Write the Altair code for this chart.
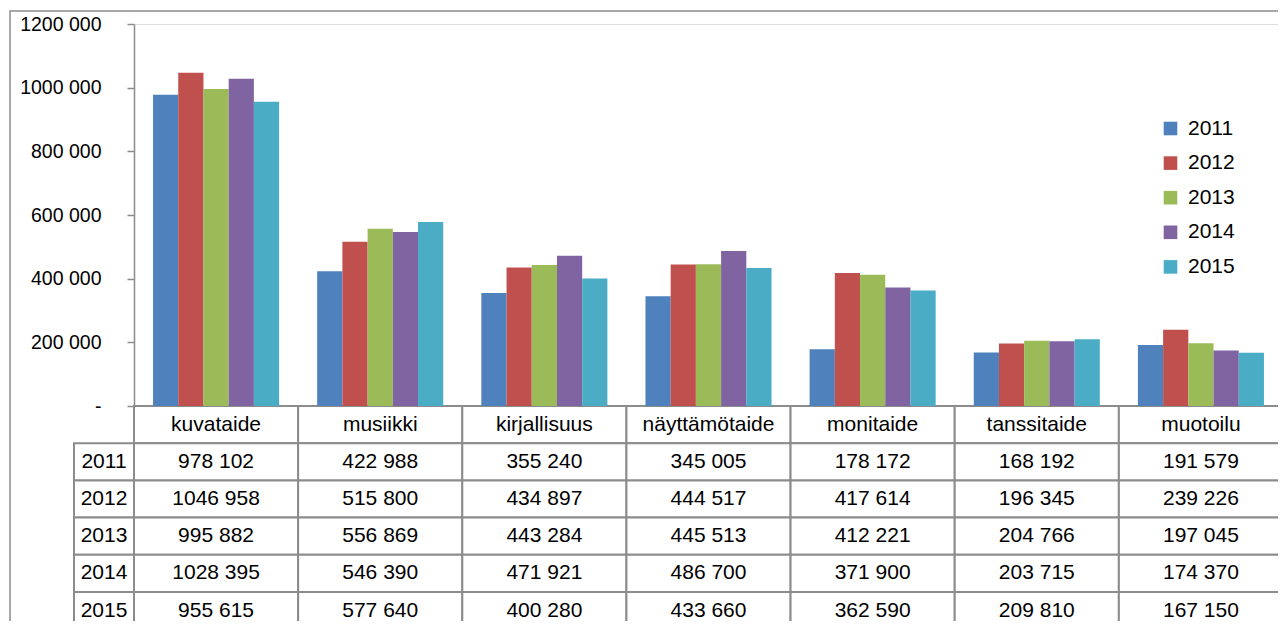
import altair as alt
import pandas as pd

categories = ["kuvataide", "musiikki", "kirjallisuus", "näyttämötaide", "monitaide", "tanssitaide", "muotoilu"]
years = ["2011", "2012", "2013", "2014", "2015"]
v2011 = [978102, 422988, 355240, 345005, 178172, 168192, 191579]
v2012 = [1046958, 515800, 434897, 444517, 417614, 196345, 239226]
v2013 = [995882, 556869, 443284, 445513, 412221, 204766, 197045]
v2014 = [1028395, 546390, 471921, 486700, 371900, 203715, 174370]
v2015 = [955615, 577640, 400280, 433660, 362590, 209810, 167150]
colors = ["#4F81BD", "#C0504D", "#9BBB59", "#8064A2", "#4BACC6"]
y_ticks = [0, 200000, 400000, 600000, 800000, 1000000, 1200000]

series = [v2011, v2012, v2013, v2014, v2015]


def fmt(v):
    return f"{v // 1000} {v % 1000:03d}"


rows = []
for yr, vals in zip(years, series):
    for c, v in zip(categories, vals):
        rows.append({"category": c, "year": yr, "value": v, "label": fmt(v)})
df = pd.DataFrame(rows)

hdr = pd.DataFrame({"category": categories, "row": ["hdr"] * len(categories), "label": categories})
cells = pd.DataFrame({"category": df["category"], "row": df["year"], "label": df["label"]})
table = pd.concat([hdr, cells], ignore_index=True)
yearcol = pd.DataFrame({"row": years, "label": years})

W = 1144          # visible plot width (page must fit into the window)
X_RANGE = 1149    # full extent of the category scale (last column runs to the edge)
H = 382
ROW_H = 37.2
row_domain = ["hdr"] + years
LINE = "#8c8c8c"
FONT = "Liberation Sans"

x_bar = alt.X("category:N", sort=categories,
              scale=alt.Scale(domain=categories, range=[0, X_RANGE], paddingInner=0.232, paddingOuter=0.116),
              axis=alt.Axis(labels=False, ticks=False, title=None, domainColor=LINE, domainWidth=1.5))
x_tab = alt.X("category:N", sort=categories,
              scale=alt.Scale(domain=categories, range=[0, X_RANGE], paddingInner=0, paddingOuter=0), axis=None)
y_tab = alt.Y("row:N", scale=alt.Scale(domain=row_domain, range=[H, H + ROW_H * len(row_domain)],
                                       paddingInner=0, paddingOuter=0), axis=None)

bars = alt.Chart(df).mark_bar().encode(
    x=x_bar,
    xOffset=alt.XOffset("year:N", scale=alt.Scale(domain=years, paddingInner=0, paddingOuter=0)),
    y=alt.Y("value:Q", scale=alt.Scale(domain=[0, 1200000], nice=False),
            axis=alt.Axis(values=y_ticks, title=None, grid=False, tickSize=7, labelPadding=26,
                          domainColor=LINE, tickColor=LINE, domainWidth=1.5, tickWidth=1.5,
                          labelFontSize=19.5, labelColor="#000000", labelFont=FONT,
                          labelExpr="datum.value == 0 ? '-\u00a0\u00a0' : floor(datum.value/1000) + ' 000'")),
    color=alt.Color("year:N", scale=alt.Scale(domain=years, range=colors),
                    legend=alt.Legend(orient="none", legendX=1026, legendY=94, title=None,
                                      symbolType="square", symbolSize=185, symbolStrokeWidth=0,
                                      labelFontSize=21, labelFont=FONT, labelColor="#000000",
                                      rowPadding=12.6, labelOffset=7, padding=0)),
)

cell_rects = alt.Chart(table).mark_rect(fill="white", stroke=LINE, strokeWidth=2).encode(
    x=x_tab, y=y_tab)
cell_text = alt.Chart(table).mark_text(fontSize=21, font=FONT, color="#000000", baseline="middle").encode(
    x=x_tab, y=y_tab, text="label:N")

year_rects = alt.Chart(yearcol).mark_rect(fill="white", stroke=LINE, strokeWidth=2).encode(
    x=alt.value(-60), x2=alt.value(0), y=y_tab)
year_text = alt.Chart(yearcol).mark_text(fontSize=21, font=FONT, color="#000000", baseline="middle").encode(
    x=alt.value(-30), y=y_tab, text="label:N")

frame = alt.Chart(pd.DataFrame({"a": [0]})).mark_rect(filled=False, stroke=LINE, strokeWidth=1.5).encode(
    x=alt.value(-124), x2=alt.value(1400), y=alt.value(-13), y2=alt.value(800))

chart = alt.layer(frame, cell_rects, cell_text, year_rects, year_text, bars).resolve_scale(
    x="independent", y="independent"
).properties(
    width=W, height=H,
    autosize=alt.AutoSizeParams(type="none"),
    padding={"left": 126, "top": 16, "right": 0, "bottom": 215},
).configure_view(stroke=None).configure(font=FONT)

chart.save("out.html", embed_options={"renderer": "svg", "actions": False})
